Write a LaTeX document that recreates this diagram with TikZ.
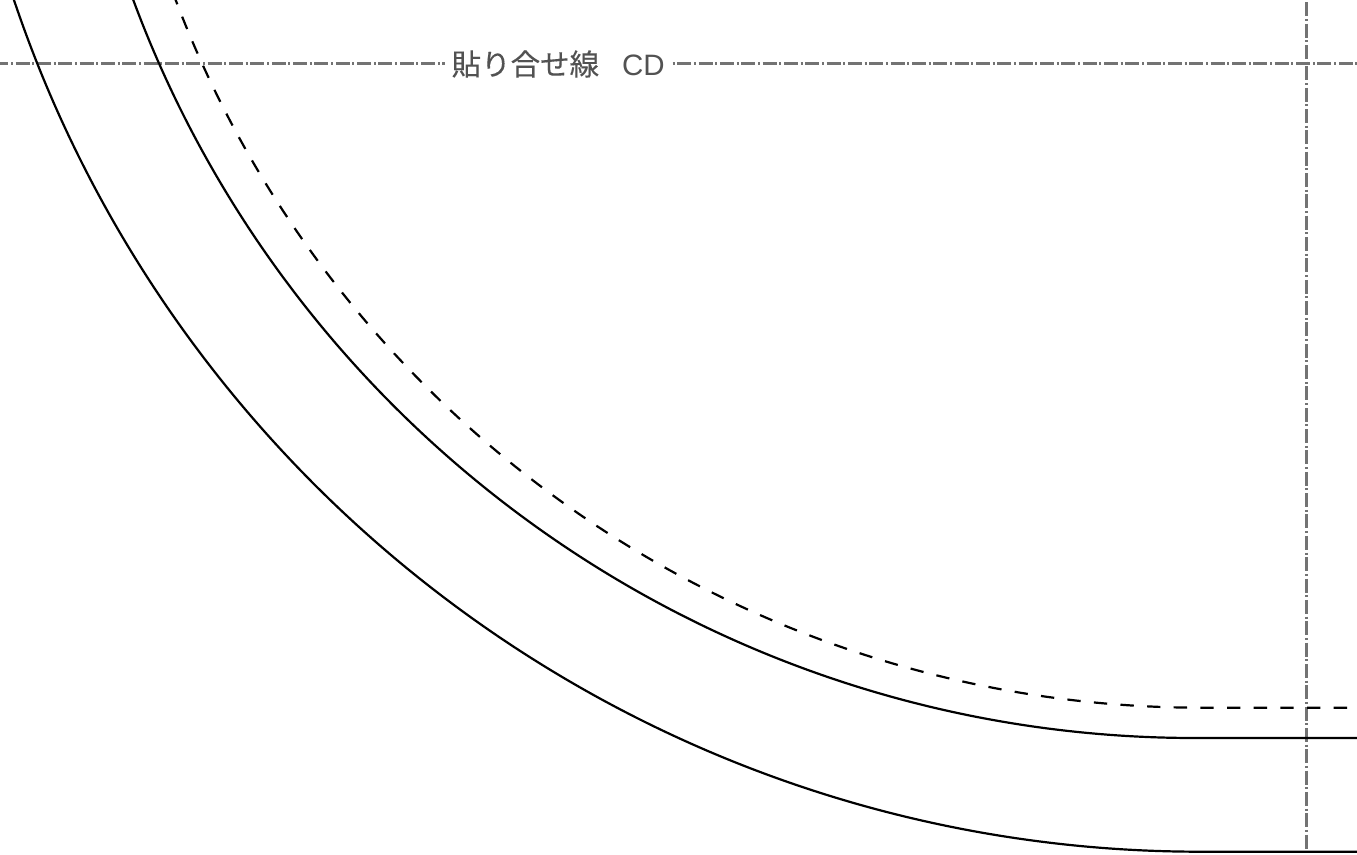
\documentclass[tikz,border=0pt]{standalone}
\usepackage{fontspec}
\newfontfamily\cjkfont[FakeBold=0.25]{Noto Sans CJK JP}
\newfontfamily\latinfont{Liberation Sans}
\tikzset{
  cut/.style={black,line width=2.2pt},
  fold/.style={cut,dash pattern=on 13.33pt off 13.33pt},
  guide/.style={draw=black!55,line width=2.6pt,dash pattern=on 14pt off 2.67pt on 2pt off 2.67pt},
  tag/.style={fill=white,text=black!68,inner sep=0pt,font=\fontsize{29.5pt}{32pt}\selectfont},
}
\begin{document}
\begin{tikzpicture}[x=1pt,y=1pt]
\useasboundingbox (0,0) rectangle (1357,854);
\clip (0,0) rectangle (1357,854);
\coordinate (hl) at (-5.67,790.6);
\coordinate (hr) at (1370,790.6);
\coordinate (vt) at (1306.2,873);
\coordinate (vb) at (1306.2,-10);
\draw[guide] (hl) -- (hr);
\draw[guide] (vt) -- (vb);
\node[tag,minimum width=227pt,minimum height=40pt] (lbl) at (558.2,790) {{\cjkfont 貼り合せ線}\hspace{23pt}{\latinfont CD}};
\draw[cut] (1360,2.3) -- (1200,2.3) arc[start angle=270,delta angle=-80,radius=1251.5pt];
\draw[cut] (1360,116) -- (1194.7,116) arc[start angle=270,delta angle=-80,radius=1132.1pt];
\draw[fold] (1347,146.3) -- (1201.6,146.3) arc[start angle=270,delta angle=-80,radius=1097.3pt];
\end{tikzpicture}
\end{document}
